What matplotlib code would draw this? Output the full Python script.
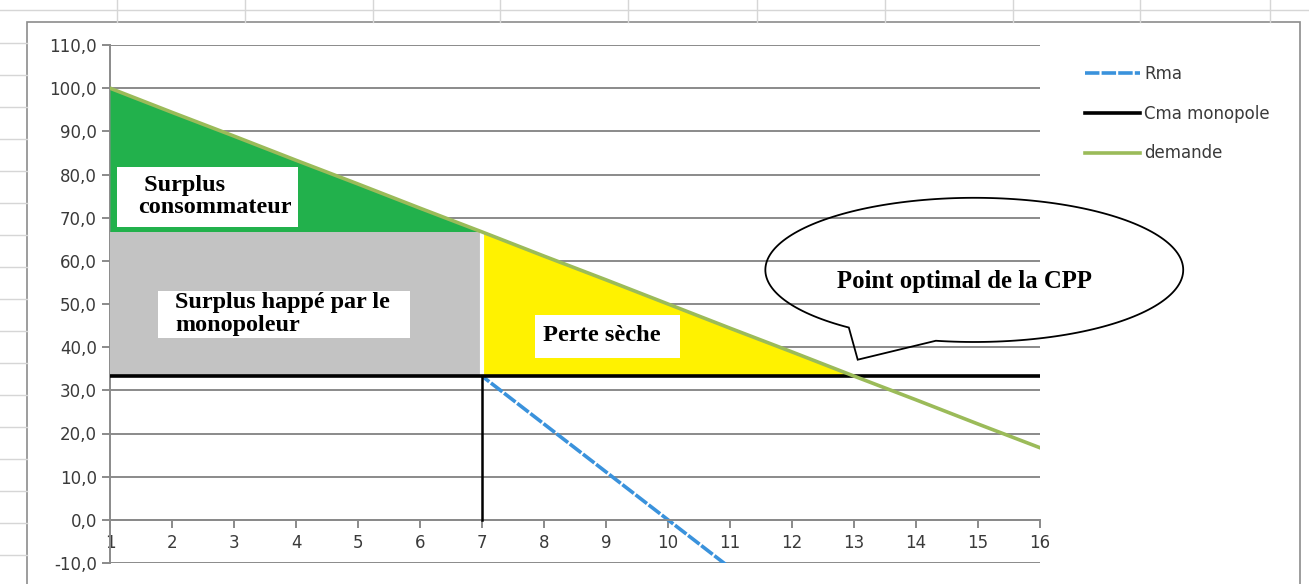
import numpy as np
import matplotlib
matplotlib.use("Agg")
import matplotlib.pyplot as plt
from matplotlib.lines import Line2D
from matplotlib.patches import Rectangle, Polygon

# quantities and curves
q = [1, 2, 3, 4, 5, 6, 7, 8, 9, 10, 11, 12, 13, 14, 15, 16]
demande = [100.0, 94.4, 88.9, 83.3, 77.8, 72.2, 66.7, 61.1, 55.6, 50.0, 44.4, 38.9, 33.3, 27.8, 22.2, 16.7]
rma = [100.0, 88.9, 77.8, 66.7, 55.6, 44.4, 33.3, 22.2, 11.1, 0.0, -11.1, -22.2, -33.3, -44.4, -55.6, -66.7]
cma = [33.3] * 16
yticks = [-10, 0, 10, 20, 30, 40, 50, 60, 70, 80, 90, 100, 110]

i_mono = 6   # q = 7, monopoly quantity
i_cpp = 12   # q = 13, competitive optimum

W, H = 1309, 584
fig = plt.figure(figsize=(W / 100, H / 100), dpi=100)
fig.patch.set_facecolor("white")

# spreadsheet cells behind the chart
cell = "#d6d6d6"
fig.add_artist(Line2D([0, 1], [1 - 10 / H, 1 - 10 / H], color=cell, lw=1))
for xp in [117, 245, 373, 500, 628, 757, 885, 1013, 1140, 1270]:
    fig.add_artist(Line2D([xp / W, xp / W], [1, 1 - 22 / H], color=cell, lw=1))
for yp in range(43, 584, 32):
    fig.add_artist(Line2D([0, 27 / W], [1 - yp / H, 1 - yp / H], color=cell, lw=1))
fig.add_artist(Rectangle((27 / W, -0.02), (1300 - 27) / W, 1.02 - 22 / H,
                         transform=fig.transFigure, facecolor="white",
                         edgecolor="#8c8c8c", lw=1.2, zorder=0))

ax = fig.add_axes([110 / W, 1 - 563 / H, 930 / W, 518 / H])
ax.set_xlim(1, 16)
ax.set_ylim(-10, 110)
ax.set_facecolor("none")

grid = "#8a8a8a"
for v in yticks:
    ax.axhline(v, color=grid, lw=1.4, zorder=1)

# areas
ax.fill_between(q[:i_mono + 1], demande[i_mono], demande[:i_mono + 1], color="#22b14c", lw=0, zorder=3)
ax.fill_between(q[:i_mono + 1], cma[0], demande[i_mono], color="#c3c3c3", lw=0, zorder=3)
ax.fill_between(q[i_mono:i_cpp + 1], cma[i_mono:i_cpp + 1], demande[i_mono:i_cpp + 1],
                color="#fff200", lw=0, zorder=3)
ax.plot([q[i_mono], q[i_mono]], [cma[0], demande[i_mono]], color="white", lw=3, zorder=4)
ax.plot([q[i_mono], q[i_mono]], [0, cma[0]], color="black", lw=1.8, zorder=5)

# curves
ax.plot(q, rma, color="#3a92dc", lw=2.6, ls=(0, (4, 0.6)), label="Rma", zorder=2)
ax.plot(q, cma, color="black", lw=2.6, label="Cma monopole", zorder=6)
ax.plot(q, demande, color="#9bbb59", lw=2.6, label="demande", zorder=7)

# axes styling
for s in ["top", "right"]:
    ax.spines[s].set_visible(False)
ax.spines["left"].set_color(grid)
ax.spines["left"].set_linewidth(1.4)
ax.spines["bottom"].set_position(("data", 0))
ax.spines["bottom"].set_color(grid)
ax.spines["bottom"].set_linewidth(1.4)
ax.set_xticks(q)
ax.set_yticks(yticks)
ax.set_yticklabels([f"{v:.1f}".replace(".", ",") for v in yticks])
ax.tick_params(axis="both", colors=grid, width=1.4, length=6, labelcolor="#3a3a3a", labelsize=12)
ax.tick_params(axis="x", pad=4)
for lab in ax.get_xticklabels():
    lab.set_zorder(10)

# text boxes
serif = "Liberation Serif"
ax.add_patch(Rectangle((1.11, 67.9), 2.92, 13.9, facecolor="white", lw=0, zorder=8))
ax.text(1.45, 74.9, " Surplus\nconsommateur", family=serif, weight="bold", fontsize=17.5,
        va="center", ha="left", linespacing=1.12, zorder=9)
ax.add_patch(Rectangle((1.77, 42.2), 4.07, 10.8, facecolor="white", lw=0, zorder=8))
ax.text(2.05, 47.7, "Surplus happé par le\nmonopoleur", family=serif, weight="bold", fontsize=17.4,
        va="center", ha="left", linespacing=1.15, zorder=9)
ax.add_patch(Rectangle((7.85, 37.5), 2.34, 10.0, facecolor="white", lw=0, zorder=8))
ax.text(7.98, 42.7, "Perte sèche", family=serif, weight="bold", fontsize=17.6,
        va="center", ha="left", zorder=9)

# callout bubble
cx, cy, a, b = 14.94, 57.9, 3.37, 16.7
t = np.radians(np.linspace(-100.6, 233.1, 200))
pts = list(zip(cx + a * np.cos(t), cy + b * np.sin(t)))
pts.append((13.06, 37.1))
ax.add_patch(Polygon(pts, closed=True, facecolor="none", edgecolor="black", lw=1.3,
                     clip_on=False, zorder=9))
ax.text(14.78, 55.3, "Point optimal de la CPP", family=serif, weight="bold", fontsize=17.8,
        ha="center", va="center", zorder=9)

ax.legend(loc="upper left", bbox_to_anchor=(1070 / W, 1 - 50 / H), bbox_transform=fig.transFigure,
          frameon=False, fontsize=12, handlelength=3.3, handletextpad=0.25, labelspacing=1.3,
          labelcolor="#3a3a3a")

fig.savefig("out.png", dpi=100)
